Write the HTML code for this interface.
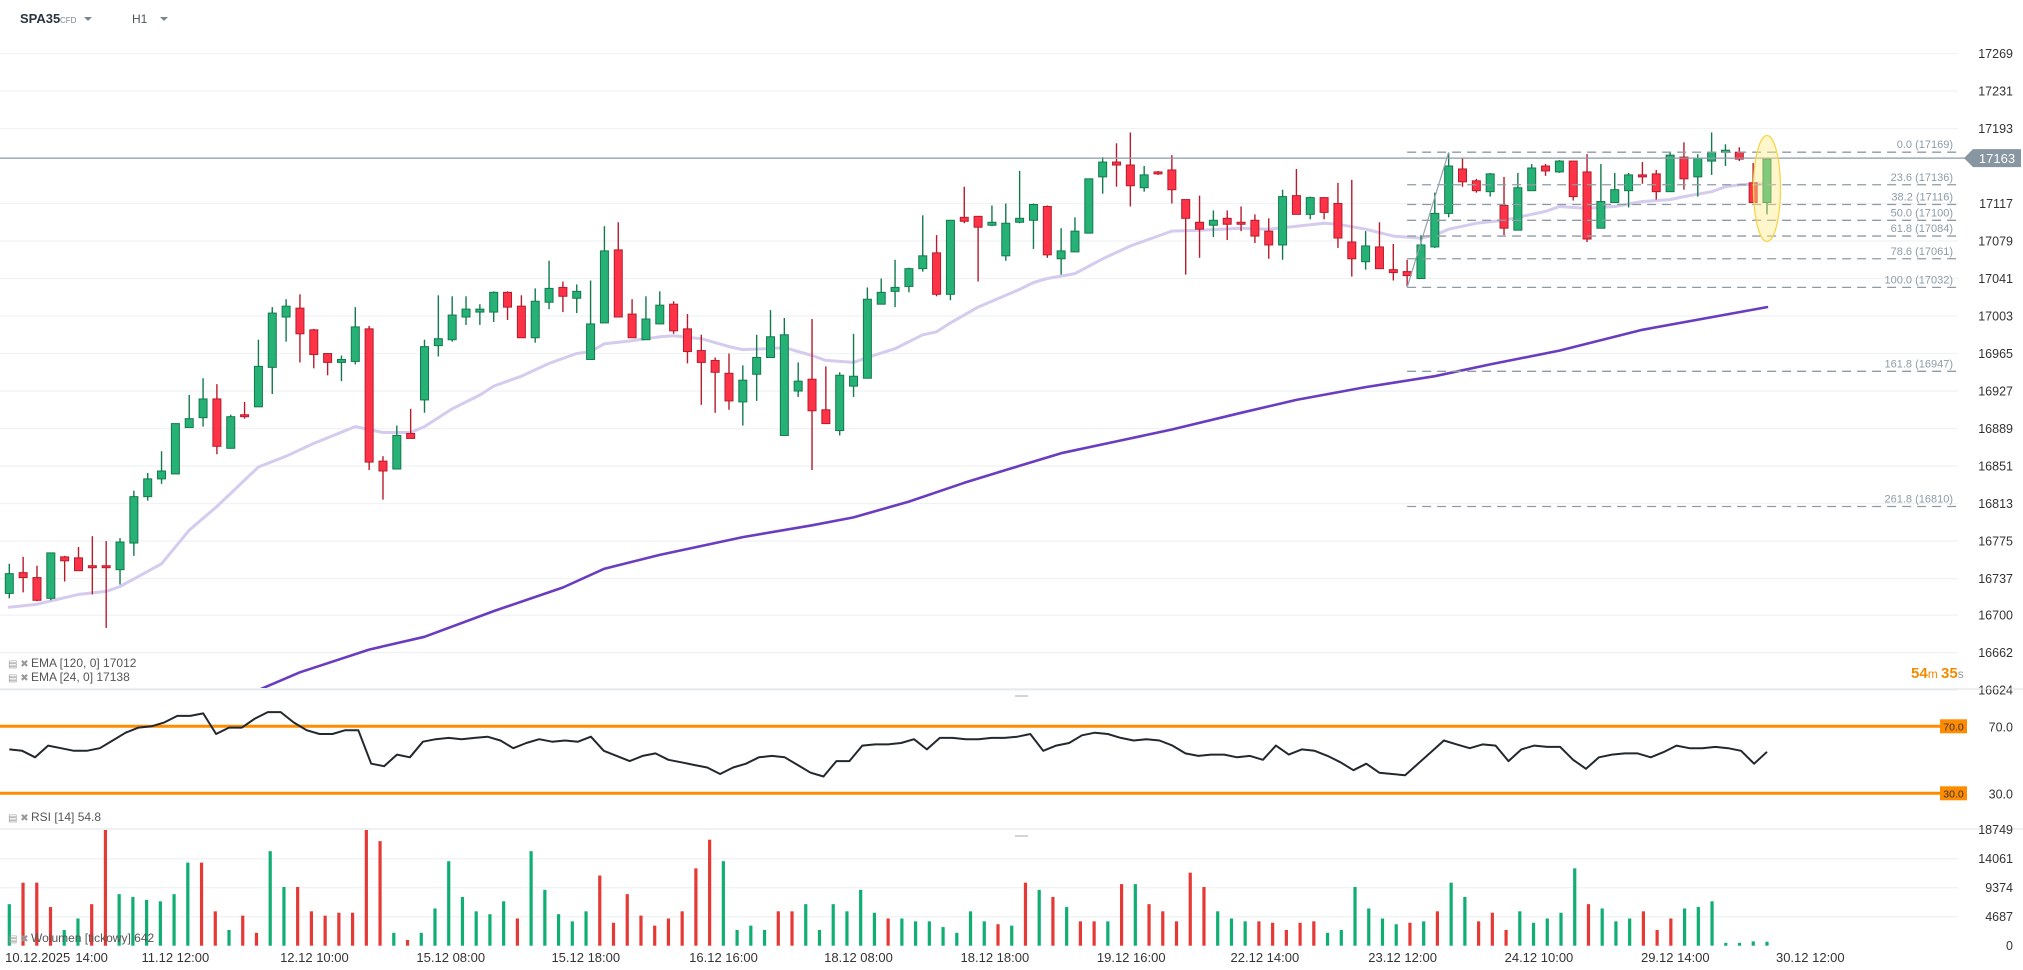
<!DOCTYPE html>
<html><head><meta charset="utf-8"><title>SPA35 H1</title>
<style>
html,body{margin:0;padding:0;background:#fff;width:2023px;height:970px;overflow:hidden;font-family:"Liberation Sans",sans-serif;}
svg{display:block}
text{font-family:"Liberation Sans",sans-serif}
</style></head><body>
<svg id="chart" width="2023" height="970" viewBox="0 0 2023 970" xmlns="http://www.w3.org/2000/svg">
  <g>
    <text x="20" y="23" font-size="13" font-weight="bold" fill="#2a3540">SPA35</text>
    <text x="60" y="23" font-size="8" fill="#7a8590">CFD</text>
    <path d="M84 17 L92 17 L88 21 Z" fill="#7a8590"/>
    <text x="132" y="23" font-size="12" fill="#4a5560">H1</text>
    <path d="M160 17 L168 17 L164 21 Z" fill="#7a8590"/>
  </g>
  <g id="grid"></g>
  <g id="yaxis"></g>
  <defs><clipPath id="mainclip"><rect x="0" y="40" width="1958" height="648"/></clipPath></defs>
  <g id="main" clip-path="url(#mainclip)"></g>
  <g id="fib"></g>
  <g id="overlay"></g>
  <g font-size="12" fill="#555">
    <text x="8" y="667" font-size="10" fill="#999">▤ ✖</text><text x="31" y="667">EMA [120, 0] 17012</text>
    <text x="8" y="681" font-size="10" fill="#999">▤ ✖</text><text x="31" y="681">EMA [24, 0] 17138</text>
    <text x="1911" y="678" font-size="15" fill="#f08c00"><tspan font-weight="bold">54</tspan><tspan font-size="12">m </tspan><tspan font-weight="bold">35</tspan><tspan font-size="12" fill="#999">s</tspan></text>
  </g>
  <line x1="0" y1="689" x2="2023" y2="689" stroke="#dde1e4" stroke-width="1"/>
  <line x1="1015" y1="696" x2="1028" y2="696" stroke="#aaa" stroke-width="1"/>
  <g id="rsi"></g>
  <text x="8" y="821" font-size="10" fill="#999">▤ ✖</text><text x="31" y="821" font-size="12" fill="#555">RSI [14] 54.8</text>
  <line x1="0" y1="829" x2="2023" y2="829" stroke="#dde1e4" stroke-width="1"/>
  <line x1="1015" y1="836" x2="1028" y2="836" stroke="#aaa" stroke-width="1"/>
  <g id="vol"></g>
  <text x="8" y="942" font-size="10" fill="#999">▤ ✖</text><text x="31" y="942" font-size="12" fill="#555">Wolumen [tickowy] 642</text>
  <g id="xaxis"></g>
</svg>
<script>
const opens=[16722,16743,16738,16717,16759,16758,16750,16750,16746,16773,16820,16838,16843,16890,16900,16919,16869,16903,16911,16951,17002,17011,16989,16965,16956,16957,16990,16856,16848,16884,16918,16973,16979,17002,17007,17007,17027,17013,16981,17017,17032,17021,16959,16996,17070,17005,16979,16995,17015,16990,16968,16958,16945,16916,16944,16961,16882,16927,16939,16908,16887,16932,16940,17015,17028,17033,17051,17067,17025,17103,17104,17095,17064,17098,17100,17114,17061,17068,17087,17144,17159,17156,17133,17149,17151,17121,17098,17095,17102,17098,17100,17089,17075,17125,17106,17123,17117,17078,17058,17073,17050,17048,17041,17073,17107,17152,17140,17129,17115,17090,17130,17155,17149,17160,17149,17092,17118,17130,17146,17147,17129,17164,17144,17160,17169,17169,17138,17118];
const highs=[16752,16759,16750,16763,16760,16769,16780,16775,16778,16826,16844,16866,16894,16923,16940,16934,16903,16916,16979,17012,17020,17025,16990,16965,16963,17012,16993,16861,16892,16909,16979,17024,17023,17023,17015,17028,17028,17024,17031,17059,17038,17035,17039,17094,17098,17020,17023,17028,17018,17005,16984,16961,16965,16953,16984,17009,17001,16956,17000,16952,16946,16985,17032,17041,17060,17052,17105,17085,17100,17134,17104,17115,17117,17150,17117,17115,17092,17103,17142,17164,17178,17189,17155,17150,17166,17121,17125,17110,17110,17114,17106,17102,17131,17152,17124,17123,17138,17141,17089,17098,17076,17060,17085,17128,17168,17163,17142,17148,17144,17148,17157,17157,17161,17160,17167,17157,17148,17148,17159,17151,17169,17179,17167,17189,17177,17174,17158,17162];
const lows=[16717,16723,16714,16715,16734,16745,16721,16687,16731,16760,16816,16833,16843,16890,16891,16863,16869,16899,16911,16924,16977,16956,16950,16943,16937,16954,16847,16817,16848,16879,16905,16962,16977,16994,16994,16997,16999,16981,16976,17010,17007,17006,16959,16996,17002,16981,16979,16995,16985,16955,16913,16905,16908,16892,16917,16961,16882,16921,16847,16894,16882,16921,16940,17015,17012,17027,17048,17023,17019,17097,17038,17094,17059,17097,17071,17062,17045,17068,17087,17127,17134,17114,17129,17146,17117,17045,17062,17083,17080,17089,17077,17061,17060,17106,17101,17101,17072,17043,17050,17051,17039,17033,17041,17072,17103,17134,17128,17124,17085,17090,17130,17145,17148,17120,17078,17092,17118,17113,17137,17121,17129,17131,17124,17146,17155,17160,17118,17106];
const closes=[16742,16738,16715,16763,16755,16745,16748,16748,16774,16820,16838,16846,16894,16899,16919,16871,16901,16901,16952,17006,17013,16985,16964,16956,16959,16992,16855,16846,16882,16879,16972,16980,17004,17010,17010,17027,17012,16981,17018,17031,17023,17028,16995,17069,17002,16981,17000,17014,16988,16967,16956,16946,16917,16938,16961,16982,16984,16937,16907,16894,16943,16942,17020,17027,17032,17051,17064,17025,17100,17099,17093,17098,17097,17102,17116,17065,17069,17089,17142,17159,17156,17135,17146,17147,17131,17102,17091,17100,17096,17096,17084,17075,17124,17106,17123,17108,17082,17061,17074,17051,17047,17044,17075,17107,17155,17139,17130,17147,17092,17133,17153,17150,17160,17124,17081,17119,17131,17146,17144,17129,17166,17142,17163,17169,17171,17162,17118,17162];

const emaFastIdx=[0,2,5,7,8,11,13,15,18,20,22,25,27,29,30,32,34,35,37,39,41,42,43,45,47,48,50,52,53,55,56,58,59,61,62,64,66,67,68,70,72,73,74,75,77,79,81,84,86,89,91,93,95,96,98,100,102,103,104,106,108,111,112,114,116,118,120,121,123,124,125,127];
const emaFastVal=[16708,16711,16721,16724,16729,16752,16786,16810,16850,16861,16874,16891,16885,16885,16891,16909,16923,16932,16942,16955,16965,16967,16975,16978,16982,16983,16980,16972,16969,16970,16971,16963,16958,16956,16961,16970,16984,16987,16996,17012,17024,17030,17037,17041,17046,17061,17074,17089,17090,17092,17091,17094,17097,17096,17091,17084,17082,17085,17091,17097,17100,17109,17114,17112,17114,17119,17121,17124,17129,17134,17136,17137];
const emaSlowIdx=[16,21,26,30,35,40,43,47,53,58,61,65,69,72,76,80,84,89,93,98,103,107,112,118,127];
const emaSlowVal=[16612,16642,16665,16678,16704,16728,16747,16761,16779,16791,16799,16815,16834,16847,16864,16876,16888,16905,16918,16931,16942,16954,16968,16989,17012];

const priceTicks=[17269,17231,17193,17117,17079,17041,17003,16965,16927,16889,16851,16813,16775,16737,16700,16662,16624];
const fibPct=["0.0","23.6","38.2","50.0","61.8","78.6","100.0","161.8","261.8"];
const fibVal=[17169,17136,17116,17100,17084,17061,17032,16947,16810];
const lastPrice=17163;

const rsiVals=[56.2,55.4,51.5,58.5,56.9,55.4,55.4,56.9,61.5,66.2,69.2,70,72.3,76.2,76.2,77.7,65.4,69.2,69.2,74.6,78.5,78.5,72.3,67.7,65.4,65.4,67.7,67.7,47.7,46.2,53.1,51.5,60.8,62.3,63.1,62.3,63.1,63.8,61.5,56.9,60,62.3,60.8,61.5,60.8,63.8,55.4,52.3,49.2,52.3,53.8,50,48.5,46.9,45.4,41.5,45.4,47.7,51.5,52.3,51.5,46.9,42.3,40,49.2,49.2,58.5,59.2,59.2,60,62.3,56.2,63.1,63.1,62.3,62.3,63.1,63.1,63.8,65.4,55.4,58.5,60,64.6,66.2,65.4,63.1,61.5,62.3,61.5,58.5,53.8,52.3,53.1,53.1,51.5,52.3,50,58.5,53.1,56.2,55.4,52.3,48.5,43.8,47.7,42.3,41.5,40.8,47.7,54.6,61.5,59.2,56.9,59.2,58.5,49.2,56.2,58.5,57.7,57.7,50,44.6,51.5,53.1,53.8,53.8,51.5,54.6,58.5,56.9,56.9,57.7,56.9,55.4,47.7,54.8];
const rsiLevels=[70,30];

const volVals=[6714,10186,10186,6250,2546,4398,6714,18700,8334,7871,7408,7177,8334,13427,13427,5556,2546,4861,2083,15279,9491,9491,5556,4861,5324,5324,18700,16900,2083,926,2083,6019,13658,7871,5556,5093,7177,4398,15279,9028,5093,3935,5556,11343,3704,8334,4861,3241,4398,5556,12501,17131,13658,2546,3241,2546,5556,5556,6714,2546,6714,5556,9028,5324,4398,4398,3935,3935,3009,2083,5556,3935,3472,3241,10186,9028,7871,6250,3935,3935,3935,9954,9954,6714,5556,3935,11806,9491,5556,4398,3935,3935,3704,2546,3704,3935,2083,2546,9491,6019,4398,3472,3704,3935,5556,10186,7871,3935,5324,2546,5556,3704,4398,5324,12501,6714,6019,3935,4398,5556,2546,4398,6019,6250,7177,463,463,694,642];
const volDir="GRRRGGRRGGGGGGRRGRRGGRRRRRRRGRGGGGGGGRGGGGGRRRRRRRRRGGGGRRGGGGGGRGGGGGGGRGRGRGRRGRGRRRRRGGGRRRRRGGGGGGRGRGGRRRGGGGGRGGGRRRG";
const volTicks=[18749,14061,9374,4687,0];

const timeLabels=["10.12.2025","14:00","11.12  12:00","12.12  10:00","15.12  08:00","15.12  18:00","16.12  16:00","18.12  08:00","18.12  18:00","19.12  16:00","22.12  14:00","23.12  12:00","24.12  10:00","29.12  14:00","30.12  12:00"];
const timeIdx=[2.1,6.1,12.3,22.6,32.7,42.7,52.9,62.9,73,83.1,93,103.2,113.3,123.4,133.4];

const NS="http://www.w3.org/2000/svg";
function mk(tag,attrs,parent){const e=document.createElementNS(NS,tag);for(const k in attrs)e.setAttribute(k,attrs[k]);parent.appendChild(e);return e;}
const X0=9.3,DX=13.84,XEND=X0+127*DX;
const xOf=i=>X0+i*DX;
const yP=v=>128.5+(17193-v)*0.987;
const yR=r=>726.3+(70-r)*1.675;
const yV=v=>945.7-v*(116/18749);
const G="#26b276",GB="#127a4c",R="#ff3347",RB="#b51c2c";

const grid=document.getElementById('grid'),yax=document.getElementById('yaxis');
priceTicks.forEach(t=>{
  const y=yP(t);
  const l=mk('line',{x1:0,x2:1958,y1:y,y2:y,stroke:'#f1f2f3','stroke-width':1.3},grid);
  
  
  const tx=mk('text',{x:2013,y:y+4.5,'font-size':12.5,fill:'#333','text-anchor':'end'},yax);
  tx.textContent=t;
  
  
});

const main=document.getElementById('main');
// EMA lines
function poly(idx,val,color,w,name){
  const pts=idx.map((i,k)=>xOf(i).toFixed(1)+','+yP(val[k]).toFixed(1)).join(' ');
  const p=mk('polyline',{points:pts,fill:'none',stroke:color,'stroke-width':w,'stroke-linejoin':'round','stroke-linecap':'round'},main);
  
  
}
poly(emaFastIdx,emaFastVal,'#d5cbee',3,'ema24-line');
poly(emaSlowIdx,emaSlowVal,'#6a3cc0',2.6,'ema120-line');
// last price line
const lp=mk('line',{x1:0,x2:1972,y1:yP(lastPrice),y2:yP(lastPrice),stroke:'#8c9ba5','stroke-width':1.3},document.getElementById('overlay'));


// candles
for(let i=0;i<opens.length;i++){
  const up=closes[i]>=opens[i];
  const g=mk('g',{},main);
  
  
  const x=xOf(i);
  mk('line',{x1:x,x2:x,y1:yP(highs[i]),y2:yP(lows[i]),stroke:up?GB:RB,'stroke-width':1.4},g);
  const top=yP(Math.max(opens[i],closes[i])),bot=yP(Math.min(opens[i],closes[i]));
  mk('rect',{x:x-4,y:top,width:8,height:Math.max(bot-top,1.5),fill:up?G:R,stroke:up?GB:RB,'stroke-width':1},g);
}
// highlight ellipse on last candle
const ov=document.getElementById('overlay');
const el=mk('ellipse',{cx:xOf(127),cy:188.5,rx:13.5,ry:53,fill:'rgba(255,236,130,0.42)',stroke:'#f6d54a','stroke-width':1.3},ov);


// fib
const fib=document.getElementById('fib');
fibVal.forEach((v,k)=>{
  const y=yP(v);
  const l=mk('line',{x1:xOf(101),x2:1958,y1:y,y2:y,stroke:'#8e9ba5','stroke-width':1.3,'stroke-dasharray':'9,6'},fib);
  
  
  const t=mk('text',{x:1953,y:y-4,'font-size':11,fill:'#8e9ba5','text-anchor':'end'},fib);
  t.textContent=fibPct[k]+' ('+v+')';
  
  
});
const tl=mk('line',{x1:xOf(101),y1:yP(fibVal[6]),x2:xOf(104),y2:yP(fibVal[0]),stroke:'#95a3ad','stroke-width':1.2},fib);


// last price label
const lb=mk('path',{d:`M1964 ${yP(lastPrice)} L1973 ${yP(lastPrice)-9} L2021 ${yP(lastPrice)-9} L2021 ${yP(lastPrice)+9} L1973 ${yP(lastPrice)+9} Z`,fill:'#8796a0'},ov);


const lt=mk('text',{x:1997,y:yP(lastPrice)+5,'font-size':13,fill:'#fff','text-anchor':'middle'},ov);
lt.textContent=lastPrice;



// RSI
const rsi=document.getElementById('rsi');
rsiLevels.forEach(r=>{
  const y=yR(r);
  const l=mk('line',{x1:0,x2:1958,y1:y,y2:y,stroke:'#ff8c00','stroke-width':3},rsi);
  
  
  const b=mk('rect',{x:1940,y:y-7,width:27,height:14,fill:'#ff8c00'},rsi);
  
  
  const t=mk('text',{x:1953.5,y:y+4,'font-size':10.5,fill:'#333','text-anchor':'middle'},rsi);
  t.textContent=r.toFixed(1);
  
  
  const t2=mk('text',{x:2013,y:y+5,'font-size':12.5,fill:'#333','text-anchor':'end'},rsi);
  t2.textContent=r.toFixed(1);
  
  
});
const rstep=(XEND-X0)/(rsiVals.length-1);
const rp=mk('polyline',{points:rsiVals.map((r,k)=>(X0+k*rstep).toFixed(1)+','+yR(r).toFixed(1)).join(' '),fill:'none',stroke:'#22282e','stroke-width':2,'stroke-linejoin':'round'},rsi);



// Volume
const vol=document.getElementById('vol');
volTicks.forEach(t=>{
  const y=yV(t);
  if(t>0&&t<18749){const l=mk('line',{x1:0,x2:1958,y1:y,y2:y,stroke:'#f1f2f3','stroke-width':1.3},vol);
  
  }
  const tx=mk('text',{x:2013,y:y+4.5,'font-size':12.5,fill:'#333','text-anchor':'end'},vol);
  tx.textContent=t;
  
  
});
const vstep=(XEND-X0)/(volVals.length-1);
volVals.forEach((v,k)=>{
  const x=X0+k*vstep,y=yV(v);
  const r=mk('rect',{x:x-1.6,y:y,width:3.2,height:Math.max(yV(0)-y,0.5),fill:volDir[k]==='R'?'#e53935':'#0fae72'},vol);
  
  
});

// time axis
const xa=document.getElementById('xaxis');
timeLabels.forEach((s,k)=>{
  const t=mk('text',{x:X0+timeIdx[k]*DX*0.9755,y:962,'font-size':13,fill:'#333','text-anchor':'middle','xml:space':'preserve'},xa);
  t.textContent=s;
  
  
});
</script>
</body></html>
